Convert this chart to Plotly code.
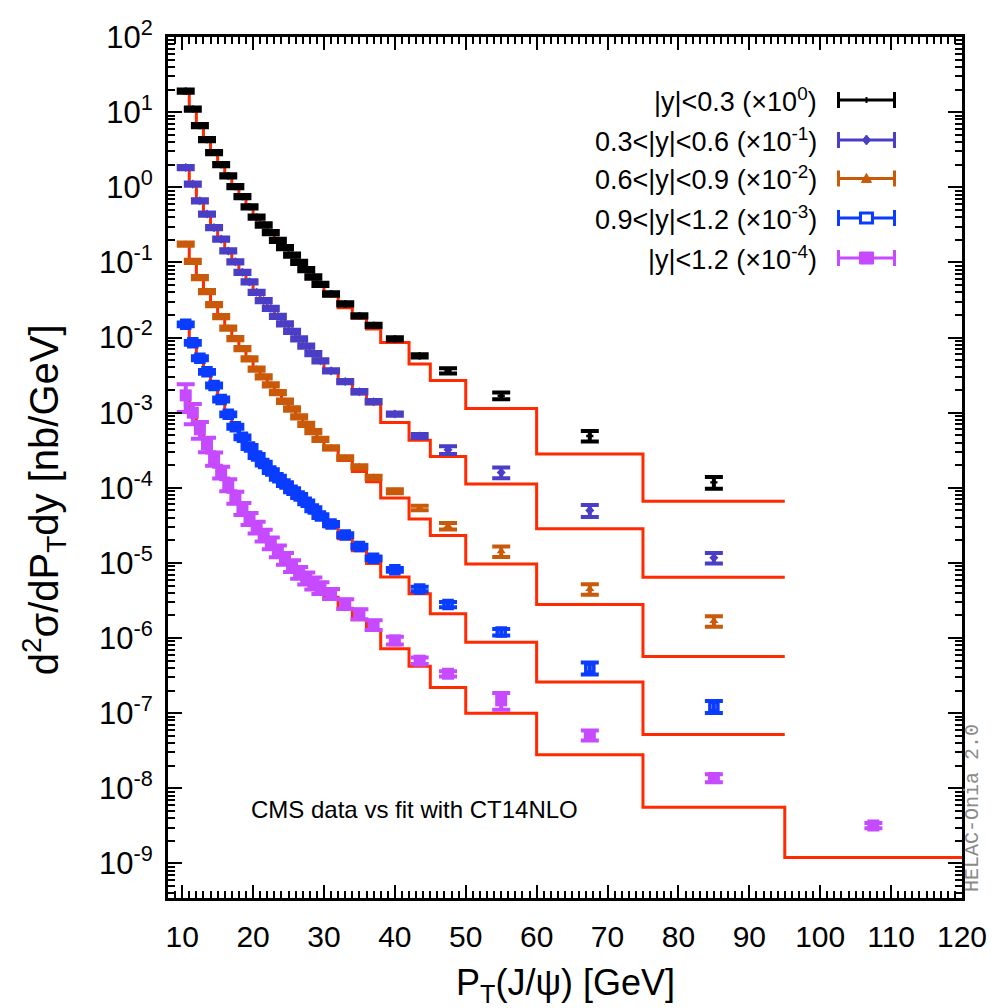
import plotly.graph_objects as go

# ---------------- data ----------------
EDGES = [10, 11, 12, 13, 14, 15, 16, 17, 18, 19, 20, 21, 22, 23, 24, 25, 26, 27, 28, 29, 30,
         32, 34, 36, 38, 42, 45, 50, 60, 75, 95, 120]
PT = [10.5, 11.5, 12.5, 13.5, 14.5, 15.5, 16.5, 17.5, 18.5, 19.5, 20.5, 21.5, 22.5, 23.5, 24.5,
      25.5, 26.5, 27.5, 28.5, 29.5, 31, 33, 35, 37, 40, 43.5, 47.5, 55, 67.5, 85, 107.5]

# |y|<0.3 (x1)
black_data = [19, 11, 6.6, 4.3, 2.9, 2.0, 1.42, 1.02, 0.75, 0.55, 0.40, 0.315, 0.25, 0.197, 0.157,
              0.125, 0.100, 0.080, 0.064, 0.051, 0.038, 0.028, 0.0195, 0.0145, 0.0096, 0.0057,
              0.0036, 0.00168, 0.00049, 0.000118]
black_theory = [18.0, 10.8, 6.5, 4.2, 2.85, 1.97, 1.40, 1.01, 0.74, 0.545, 0.405, 0.31, 0.245, 0.193,
                0.153, 0.122, 0.098, 0.079, 0.063, 0.050, 0.036, 0.025, 0.018, 0.013, 0.0086,
                0.00443, 0.00267, 0.00114, 0.000282, 0.000066]
black_relerr = [0.05, 0.05, 0.05, 0.05, 0.05, 0.05, 0.05, 0.05, 0.05, 0.05, 0.05, 0.05, 0.05, 0.05,
                0.05, 0.05, 0.05, 0.05, 0.05, 0.05, 0.05, 0.05, 0.05, 0.05, 0.05, 0.05, 0.08,
                0.10, 0.16, 0.18]

# 0.3<|y|<0.6 (x1e-1)
purple_data = [1.83, 1.10, 0.66, 0.44, 0.29, 0.204, 0.142, 0.102, 0.074, 0.055, 0.040, 0.031, 0.0245,
               0.0192, 0.0152, 0.0121, 0.0096, 0.0077, 0.0061, 0.0049, 0.0036, 0.0026, 0.0019,
               0.00140, 0.00096, 0.00049, 0.00032, 0.00016, 5.0e-5, 1.17e-5]
purple_theory = [1.78, 1.07, 0.65, 0.43, 0.285, 0.20, 0.139, 0.100, 0.073, 0.054, 0.0395, 0.0305,
                 0.024, 0.0188, 0.0149, 0.0118, 0.0094, 0.0075, 0.0060, 0.0048, 0.0035, 0.0025,
                 0.00178, 0.0013, 0.00074, 0.00043, 0.00026, 0.000112, 2.84e-5, 6.45e-6]
purple_relerr = [0.05, 0.05, 0.05, 0.05, 0.05, 0.05, 0.05, 0.05, 0.05, 0.05, 0.05, 0.05, 0.05, 0.05,
                 0.05, 0.05, 0.05, 0.05, 0.05, 0.05, 0.05, 0.05, 0.05, 0.05, 0.05, 0.06, 0.12,
                 0.16, 0.18, 0.16]

# 0.6<|y|<0.9 (x1e-2)
orange_data = [0.175, 0.103, 0.063, 0.041, 0.0275, 0.0190, 0.0134, 0.0097, 0.0071, 0.0052, 0.0038,
               0.0030, 0.00235, 0.00185, 0.00142, 0.00112, 0.00088, 0.00070, 0.00056, 0.00044,
               0.00034, 0.00025, 0.00019, 0.000138, 9.0e-5, 5.4e-5, 3.1e-5, 1.43e-5, 4.5e-6, 1.68e-6]
orange_theory = [0.168, 0.100, 0.061, 0.040, 0.027, 0.0186, 0.0131, 0.0095, 0.0069, 0.0051, 0.0037,
                 0.0029, 0.0023, 0.0018, 0.00138, 0.00109, 0.00086, 0.00068, 0.00054, 0.00042,
                 0.00032, 0.00023, 0.000165, 0.00012, 7.3e-5, 3.85e-5, 2.31e-5, 9.7e-6, 2.8e-6,
                 5.7e-7]
orange_relerr = [0.05, 0.05, 0.05, 0.05, 0.05, 0.05, 0.05, 0.05, 0.05, 0.05, 0.05, 0.05, 0.05, 0.05,
                 0.05, 0.05, 0.05, 0.05, 0.05, 0.05, 0.05, 0.05, 0.05, 0.05, 0.06, 0.07, 0.10,
                 0.16, 0.16, 0.16]

# 0.9<|y|<1.2 (x1e-3)
blue_data = [0.0150, 0.0085, 0.0053, 0.0035, 0.0023, 0.0015, 0.00095, 0.00065, 0.00047, 0.00035,
             0.000265, 0.00021, 0.000167, 0.000136, 0.000112, 9.3e-5, 7.8e-5, 6.4e-5, 5.2e-5, 4.2e-5,
             3.3e-5, 2.35e-5, 1.65e-5, 1.15e-5, 8.1e-6, 4.5e-6, 2.8e-6, 1.2e-6, 4.0e-7, 1.23e-7]
blue_theory = [0.0145, 0.0083, 0.0051, 0.0034, 0.0022, 0.00145, 0.00093, 0.00064, 0.00046, 0.00034,
               0.00026, 0.000205, 0.000163, 0.000132, 0.000108, 9.0e-5, 7.5e-5, 6.2e-5, 5.0e-5,
               4.0e-5, 3.0e-5, 2.1e-5, 1.45e-5, 9.8e-6, 6.5e-6, 3.9e-6, 2.1e-6, 8.8e-7, 2.6e-7,
               5.2e-8]
blue_relerr = [0.06, 0.06, 0.06, 0.06, 0.06, 0.06, 0.06, 0.06, 0.06, 0.06, 0.06, 0.06, 0.06, 0.06,
               0.06, 0.06, 0.06, 0.06, 0.06, 0.06, 0.06, 0.06, 0.06, 0.06, 0.06, 0.07, 0.08,
               0.10, 0.18, 0.18]

# |y|<1.2 (x1e-4)
magenta_data = [1.7e-3, 1.0e-3, 6.0e-4, 3.8e-4, 2.45e-4, 1.62e-4, 1.1e-4, 7.5e-5, 5.3e-5, 3.9e-5,
                3.0e-5, 2.35e-5, 1.85e-5, 1.45e-5, 1.15e-5, 9.2e-6, 7.5e-6, 6.3e-6, 5.4e-6, 4.7e-6,
                3.9e-6, 2.86e-6, 2.1e-6, 1.5e-6, 9.3e-7, 5.0e-7, 3.35e-7, 1.48e-7, 5.1e-8, 1.37e-8,
                3.2e-9]
magenta_theory = [1.6e-3, 9.6e-4, 5.8e-4, 3.7e-4, 2.4e-4, 1.58e-4, 1.07e-4, 7.3e-5, 5.2e-5, 3.8e-5,
                  2.9e-5, 2.25e-5, 1.78e-5, 1.4e-5, 1.1e-5, 8.8e-6, 7.2e-6, 6.0e-6, 5.1e-6, 4.4e-6,
                  3.5e-6, 2.5e-6, 1.75e-6, 1.26e-6, 7.2e-7, 4.2e-7, 2.2e-7, 1.0e-7, 2.8e-8, 5.6e-9,
                  1.2e-9]
magenta_relerr = [0.40, 0.30, 0.25, 0.22, 0.20, 0.18, 0.18, 0.18, 0.18, 0.18, 0.18, 0.18, 0.18, 0.18,
                  0.18, 0.18, 0.18, 0.18, 0.18, 0.18, 0.15, 0.15, 0.15, 0.15, 0.12, 0.10, 0.08,
                  0.25, 0.15, 0.12, 0.08]

LABELS = ["|y|&lt;0.3 (×10<sup>0</sup>)",
          "0.3&lt;|y|&lt;0.6 (×10<sup>-1</sup>)",
          "0.6&lt;|y|&lt;0.9 (×10<sup>-2</sup>)",
          "0.9&lt;|y|&lt;1.2 (×10<sup>-3</sup>)",
          "|y|&lt;1.2 (×10<sup>-4</sup>)"]

Y_TICKS = [1e2, 1e1, 1e0, 1e-1, 1e-2, 1e-3, 1e-4, 1e-5, 1e-6, 1e-7, 1e-8, 1e-9]
Y_TICKTEXT = ["10<sup>2</sup>", "10<sup>1</sup>", "10<sup>0</sup>", "10<sup>-1</sup>",
              "10<sup>-2</sup>", "10<sup>-3</sup>", "10<sup>-4</sup>", "10<sup>-5</sup>",
              "10<sup>-6</sup>", "10<sup>-7</sup>", "10<sup>-8</sup>", "10<sup>-9</sup>"]

# ---------------- styling ----------------
FONT = "Liberation Sans, Arial, Helvetica, sans-serif"
RED = "#ff2a00"
series = [
    (black_data, black_theory, black_relerr, "#000000", "cross", 6, 0),
    (purple_data, purple_theory, purple_relerr, "#4a3ec6", "diamond", 7, 0),
    (orange_data, orange_theory, orange_relerr, "#c85a0a", "triangle-up", 8, 0),
    (blue_data, blue_theory, blue_relerr, "#0a3cff", "square-open", 8, 3.5),
    (magenta_data, magenta_theory, magenta_relerr, "#c64aff", "square", 12, 0),
]

fig = go.Figure()

# theory step histograms (drawn first, beneath data)
for data, theory, relerr, color, sym, size, lw in series:
    n = len(theory)
    fig.add_trace(go.Scatter(
        x=EDGES[:n + 1], y=theory + [theory[-1]], mode="lines",
        line=dict(color=RED, width=3, shape="hv"), showlegend=False, hoverinfo="skip"))

# data with error bars
for (data, theory, relerr, color, sym, size, lw), label in zip(series, LABELS):
    n = len(data)
    errs = [v * e for v, e in zip(data, relerr)]
    fig.add_trace(go.Scatter(
        x=PT[:n], y=data, mode="markers", name=label,
        marker=dict(symbol=sym, size=size, color=color,
                    line=dict(color=color, width=lw)),
        error_y=dict(type="data", array=errs, visible=True, color=color,
                     thickness=4, width=9),
        showlegend=False))

minor_y = [m * 10.0 ** e for e in range(-10, 2) for m in range(2, 10)]

fig.update_layout(
    width=999, height=1008,
    margin=dict(l=168, r=33, t=37, b=110),
    paper_bgcolor="white", plot_bgcolor="white",
    font=dict(family=FONT, color="black"),
    showlegend=False,
    xaxis=dict(
        range=[8, 120], tickmode="linear", tick0=10, dtick=10,
        ticks="inside", ticklen=13, tickwidth=2, tickcolor="black",
        minor=dict(ticks="inside", ticklen=7, tickwidth=1.5, tickcolor="black", dtick=1, tick0=8),
        showline=True, linewidth=3, linecolor="black", mirror="allticks",
        showgrid=False, zeroline=False,
        tickfont=dict(size=30, family=FONT), ticklabelstandoff=10),
    yaxis=dict(
        type="log", range=[-9.46, 2.0],
        tickmode="array", tickvals=Y_TICKS, ticktext=Y_TICKTEXT,
        ticks="inside", ticklen=14, tickwidth=2, tickcolor="black",
        minor=dict(ticks="inside", ticklen=7, tickwidth=1.5, tickcolor="black",
                   tickmode="array", tickvals=minor_y),
        showline=True, linewidth=3, linecolor="black", mirror="allticks",
        showgrid=False, zeroline=False,
        tickfont=dict(size=31, family=FONT), ticklabelstandoff=6),
)

ann = []
# axis titles
ann.append(dict(text="P<sub>T</sub>(J/ψ) [GeV]", xref="paper", yref="paper", x=0.5, y=-0.101,
                xanchor="center", yanchor="middle", showarrow=False, font=dict(size=36, family=FONT)))
ann.append(dict(text="d<sup>2</sup>σ/dP<sub>T</sub>dy [nb/GeV]", xref="paper", yref="paper",
                x=-0.156, y=0.462, xanchor="center", yanchor="middle", textangle=-90,
                showarrow=False, font=dict(size=40, family=FONT)))
# in-plot note
ann.append(dict(text="CMS data vs fit with CT14NLO", xref="paper", yref="paper",
                x=0.31, y=0.103, xanchor="center", yanchor="middle", showarrow=False,
                font=dict(size=24, family=FONT)))
# generator tag on right edge
ann.append(dict(text="HELAC-Onia 2.0", xref="paper", yref="paper", x=1.013, y=0.105,
                xanchor="center", yanchor="middle", textangle=-90, showarrow=False,
                font=dict(size=20, family="Liberation Mono, DejaVu Sans Mono, monospace",
                          color="#8a8a8a")))

# manual legend (text left of sample, like gnuplot)
leg_y = [0.9268, 0.8804, 0.8357, 0.7898, 0.7433]
leg_text_x = 0.8195
leg_sample_x = 0.8797
shapes = []
for (data, theory, relerr, color, sym, size, lw), label, yy in zip(series, LABELS, leg_y):
    ann.append(dict(text=label, xref="paper", yref="paper", x=leg_text_x, y=yy,
                    xanchor="right", yanchor="middle", showarrow=False,
                    font=dict(size=27, family=FONT)))
    common = dict(xref="paper", yref="paper", xsizemode="pixel", ysizemode="pixel",
                  xanchor=leg_sample_x, yanchor=yy)
    shapes.append(dict(type="line", x0=-28, x1=28, y0=0, y1=0, line=dict(color=color, width=3), **common))
    shapes.append(dict(type="line", x0=-28, x1=-28, y0=-8, y1=8, line=dict(color=color, width=3), **common))
    shapes.append(dict(type="line", x0=28, x1=28, y0=-8, y1=8, line=dict(color=color, width=3), **common))
    if sym == "cross":
        shapes.append(dict(type="line", x0=0, x1=0, y0=-3, y1=3, line=dict(color=color, width=2), **common))
    elif sym == "diamond":
        shapes.append(dict(type="path", path="M 0,-5 L 4,0 L 0,5 L -4,0 Z",
                           fillcolor=color, line=dict(color=color, width=1), **common))
    elif sym == "triangle-up":
        shapes.append(dict(type="path", path="M -5,-4 L 5,-4 L 0,5 Z",
                           fillcolor=color, line=dict(color=color, width=1), **common))
    elif sym == "square-open":
        shapes.append(dict(type="rect", x0=-6, x1=6, y0=-5, y1=5, fillcolor="white",
                           line=dict(color=color, width=3), **common))
    else:
        shapes.append(dict(type="rect", x0=-7, x1=7, y0=-6, y1=6, fillcolor=color,
                           line=dict(color=color, width=1), **common))

fig.update_layout(annotations=ann, shapes=shapes)

fig.write_html("out.html")
